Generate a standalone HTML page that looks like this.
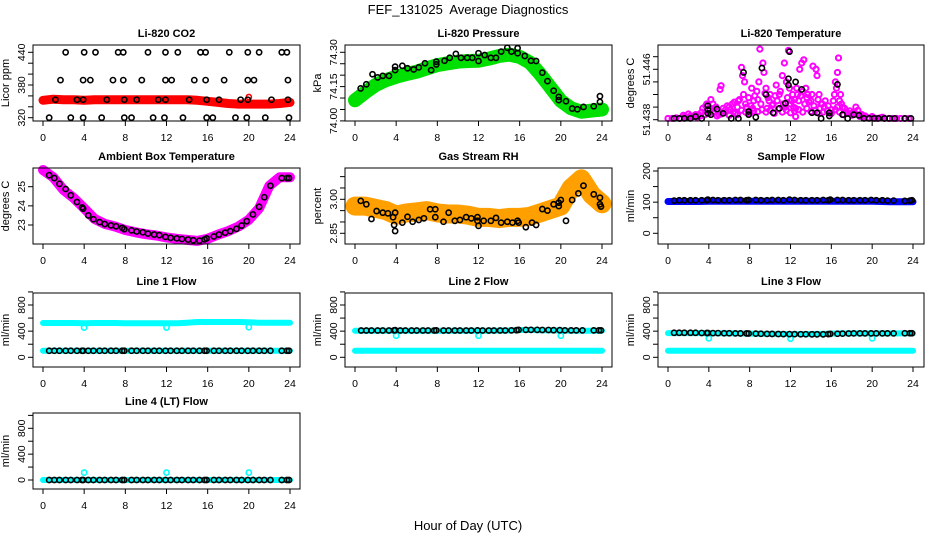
<!DOCTYPE html>
<html><head><meta charset="utf-8"><title>FEF_131025 Average Diagnostics</title>
<style>
html,body{margin:0;padding:0;background:#fff;}
svg{display:block;font-family:"Liberation Sans",Arial,sans-serif;}
</style></head>
<body>
<svg id="chart" width="936" height="540" viewBox="0 0 936 540" xmlns="http://www.w3.org/2000/svg">
<rect x="0" y="0" width="936" height="540" fill="#fff"/>
<text x="468" y="14" text-anchor="middle" font-size="13">FEF_131025&#160; Average Diagnostics</text>
<text x="468" y="530" text-anchor="middle" font-size="13">Hour of Day (UTC)</text>
</svg>
<script>
// ---------- data ----------
const bandHours = [0,1,2,3,4,5,6,7,8,9,10,11,12,13,14,15,16,17,18,19,20,21,22,23,24];
const co2Band = [352,354,353,353,352,353,353,353,353,353,353,353,353,353,353,352,350,348,346,345,345,345,345,346,348];
const co2BlackHours = [2.2,4.0,5.1,7.3,7.8,10.2,11.9,13.1,15.3,15.8,18.1,19.9,21.0,23.2,23.7,
  1.7,3.9,4.6,6.8,7.8,9.6,11.9,12.5,14.7,15.8,17.6,19.9,20.5,23.8,
  1.2,3.3,3.9,6.2,7.9,9.1,11.2,11.9,14.2,15.9,17.1,19.2,19.9,22.2,23.8,
  0.6,2.7,3.9,5.7,7.9,8.6,10.7,11.8,13.6,15.9,16.5,18.7,19.8,21.6,23.9];
const co2BlackVals = [440,440,440,440,440,440,440,440,440,440,440,440,440,440,440,
  389,389,389,389,389,389,389,389,389,389,389,389,389,389,
  353,353,353,353,353,353,353,353,353,353,353,353,353,353,353,
  320,320,320,320,320,320,320,320,320,320,320,320,320,320,320];

const presBand = [74.09,74.125,74.157,74.178,74.193,74.205,74.215,74.23,74.244,74.252,74.259,74.262,74.263,74.272,74.284,74.29,74.28,74.255,74.204,74.146,74.088,74.055,74.04,74.045,74.05];
const presBlackHours = [0.55,1.1,1.7,2.2,2.7,3.3,3.9,3.9,4.6,5.1,5.7,6.2,6.8,7.4,7.9,7.9,8.7,9.2,9.8,10.3,10.9,11.4,12.0,12.0,12.6,13.2,13.7,14.2,14.8,15.2,15.8,15.8,16.5,17.1,17.6,18.2,18.7,19.3,19.8,19.8,20.5,21.1,21.6,22.2,23.2,23.8,23.8];
const presBlackVals = [74.142,74.160,74.204,74.190,74.197,74.197,74.222,74.237,74.241,74.230,74.225,74.234,74.252,74.222,74.259,74.247,74.263,74.276,74.293,74.276,74.276,74.276,74.296,74.262,74.288,74.276,74.276,74.303,74.320,74.303,74.318,74.296,74.284,74.263,74.262,74.211,74.174,74.132,74.105,74.091,74.086,74.054,74.051,74.061,74.064,74.108,74.083];

const tempMagHours = [0,0.4,0.8,1.2,1.6,2,2.4,2.8,3.2,3.6,4,4.4,4.8,5.2,5.6,6,6.4,6.8,7.2,7.6,8,8.4,8.8,9.2,9.6,10,10.4,10.8,11.2,11.6,12,12.4,12.8,13.2,13.6,14,14.4,14.8,15.2,15.6,16,16.4,16.8,17.2,17.6,18,18.4,18.8,19.2,19.6,20,20.4,20.8,21.2,21.6,22,22.4,22.8,23.2,23.6,
  1.5,2,2.5,3,3.3,3.8,4.2,4.5,5,5.1,5.2,5.6,6,6.3,6.6,6.9,7.2,7.3,7.4,7.5,7.7,8,8.2,8.4,8.7,8.9,9.0,9.3,9.4,9.6,9.8,10,10.3,10.6,10.9,11.2,11.4,11.6,11.8,11.9,12.1,12.3,12.5,12.7,12.9,13.1,13.3,13.5,13.7,14,14.2,14.5,14.6,14.8,15,15.3,15.6,15.9,16.2,16.5,16.6,16.7,16.9,17.1,17.5,18,18.4,18.8,19.3,20,21,
  3.4,3.7,4.1,4.4,4.7,5.4,5.8,6.1,6.5,6.8,7.0,7.6,7.9,8.1,8.3,8.5,8.8,9.1,9.5,9.7,9.9,10.2,10.5,10.7,11.0,11.3,11.5,11.7,12.0,12.2,12.4,12.6,12.8,13.0,13.2,13.4,13.6,13.8,14.1,14.3,14.7,14.9,15.1,15.4,15.7,16.0,16.3,16.4,16.8,17.0,17.3,17.8,18.2,18.6,19.0,2.2,2.7,1.8,16.6,12.5];
const tempMagVals = [51.4382,51.4382,51.4383,51.4382,51.4384,51.4383,51.4385,51.4384,51.4386,51.4388,51.4390,51.4392,51.4386,51.4389,51.4391,51.4387,51.4392,51.4388,51.4395,51.4392,51.4390,51.4394,51.4393,51.4396,51.4392,51.4395,51.4390,51.4397,51.4392,51.4395,51.4391,51.4394,51.4396,51.4392,51.4398,51.4393,51.4395,51.4390,51.4392,51.4394,51.4390,51.4396,51.4392,51.4388,51.4390,51.4387,51.4389,51.4385,51.4384,51.4383,51.4383,51.4382,51.4383,51.4382,51.4382,51.4382,51.4382,51.4382,51.4382,51.4382,
  51.4387,51.4389,51.4386,51.4388,51.4392,51.4405,51.4412,51.4398,51.4388,51.4428,51.4434,51.4395,51.4400,51.4405,51.4390,51.4410,51.4463,51.4450,51.4420,51.4440,51.4400,51.4390,51.4430,51.4410,51.4425,51.4440,51.4492,51.4470,51.4455,51.4430,51.4415,51.4420,51.4405,51.4435,51.4420,51.4450,51.4470,51.4440,51.4490,51.4430,51.4410,51.4400,51.4385,51.4420,51.4460,51.4470,51.4475,51.4430,51.4420,51.4410,51.4465,51.4460,51.4450,51.4420,51.4405,51.4400,51.4395,51.4390,51.4410,51.4430,51.4455,51.4478,51.4420,51.4400,51.4392,51.4390,51.4400,51.4388,51.4386,51.4385,51.4384,
  51.4398,51.4402,51.4396,51.4405,51.4400,51.4398,51.4402,51.4396,51.4408,51.4400,51.4412,51.4405,51.4415,51.4402,51.4398,51.4418,51.4412,51.4405,51.4422,51.4398,51.4410,51.4403,51.4418,51.4410,51.4425,51.4405,51.4400,51.4415,51.4405,51.4420,51.4412,51.4430,51.4410,51.4418,51.4425,51.4405,51.4415,51.4408,51.4420,51.4402,51.4412,51.4398,51.4405,51.4410,51.4402,51.4396,51.4420,51.4440,51.4410,51.4405,51.4398,51.4394,51.4392,51.4395,51.4388,51.4386,51.4388,51.4384,51.4400,51.4398];
const tempBlackHours = [0.6,1.1,1.6,2.2,2.7,3.3,3.9,3.9,3.9,4.2,4.8,5.4,6.2,6.9,7.4,7.9,7.9,8.6,9.2,9.6,10.3,10.9,11.5,11.8,11.9,11.8,12.5,13.1,14.1,14.6,15.0,15.8,15.8,16.6,17.1,17.6,18.2,18.7,19.2,19.7,20.2,20.6,21.2,21.7,22.2,23.2,23.8];
const tempBlackVals = [51.4382,51.4382,51.4382,51.4382,51.4385,51.4382,51.4396,51.4402,51.4390,51.4388,51.4397,51.4390,51.4382,51.4382,51.4455,51.4393,51.4388,51.4384,51.4462,51.4420,51.4391,51.4398,51.4406,51.4445,51.4488,51.4435,51.4440,51.4428,51.4391,51.4391,51.4382,51.4386,51.4391,51.4436,51.4388,51.4382,51.4388,51.4387,51.4382,51.4382,51.4382,51.4382,51.4382,51.4382,51.4382,51.4382,51.4382];

const ambBand = [25.87,25.49,24.83,24.4,23.87,23.32,23.06,22.92,22.74,22.62,22.52,22.45,22.35,22.28,22.22,22.17,22.28,22.5,22.68,22.92,23.27,23.87,25.05,25.49,25.49];
const ambBlackHours = [0.6,1.1,1.6,2.2,2.7,3.3,3.8,3.9,4.4,4.9,5.5,6.0,6.6,7.1,7.7,7.9,8.6,9.1,9.7,10.2,10.8,11.3,11.9,12.4,13.0,13.5,14.1,14.6,15.2,15.7,15.9,16.6,17.1,17.7,18.2,18.8,19.3,19.8,20.4,21.0,21.5,22.1,23.2,23.7,23.9];
const ambBlackVals = [25.6,25.45,25.15,24.88,24.55,24.2,23.92,23.85,23.5,23.3,23.15,23.05,22.98,22.93,22.85,22.78,22.72,22.66,22.62,22.55,22.5,22.47,22.38,22.33,22.3,22.27,22.24,22.2,22.18,22.25,22.3,22.4,22.5,22.6,22.68,22.8,22.97,23.2,23.55,23.95,24.45,25.05,25.45,25.45,25.45];

const rhBand = [2.97,2.97,2.96,2.95,2.93,2.94,2.945,2.95,2.94,2.935,2.935,2.93,2.92,2.92,2.915,2.92,2.92,2.925,2.94,2.955,2.97,3.05,3.09,3.02,2.98];
const rhBlackHours = [0.56,1.1,1.6,2.1,2.7,3.2,3.7,3.9,3.8,3.9,4.6,5.1,5.6,6.2,6.7,7.3,7.8,7.8,8.6,9.1,9.7,10.2,10.8,11.3,11.9,11.9,12.0,12.5,13.2,13.7,14.2,14.8,15.3,15.8,15.9,16.6,17.2,17.6,18.2,18.7,19.3,19.8,19.8,20.0,20.5,21.1,21.7,22.2,23.2,23.8,23.8,23.9];
const rhBlackVals = [2.993,2.978,2.913,2.948,2.941,2.938,2.921,2.941,2.887,2.860,2.897,2.923,2.901,2.909,2.916,2.956,2.956,2.921,2.901,2.941,2.905,2.909,2.921,2.916,2.905,2.921,2.883,2.905,2.905,2.918,2.897,2.901,2.897,2.905,2.897,2.877,2.897,2.887,2.957,2.950,2.978,2.985,2.970,2.997,2.905,2.997,3.026,3.060,3.022,3.007,2.978,2.968];

const flowHours = [0.6,1.1,1.6,2.2,2.7,3.3,3.8,3.9,4.4,4.9,5.5,6.0,6.6,7.1,7.7,7.9,8.6,9.1,9.7,10.2,10.8,11.3,11.9,12.4,13.0,13.5,14.1,14.6,15.2,15.7,15.9,16.6,17.1,17.7,18.2,18.8,19.3,19.9,20.4,21.0,21.5,22.1,23.2,23.7,23.9];
const sampleBand = [102,102,102,102,103,103,103,103,103,103,103,103,103,103,103,103,103,103,103,103,103,102,101,101,101];
const sampleBlack = [105,106,106,106,106,106,106,108,107,106,106,106,107,107,106,107,107,106,106,107,107,106,108,107,106,106,106,106,107,106,108,107,107,106,106,106,106,107,106,106,105,105,104,105,106];

const cyanDipHours = [4,12,20];
const line1High = [525,525,525,525,522,525,525,525,522,522,522,522,522,522,530,540,540,540,540,540,535,530,530,530,530];
const line1Low = [100,100,100,100,100,100,100,100,100,100,100,100,100,100,100,100,100,100,100,100,100,100,100,100,100];
const line1Dips = [455,455,460];
const line1Black = [100,100,100,100,100,100,100,100,100,100,100,100,100,100,100,100,100,100,100,100,100,100,100,100,100,100,100,100,100,100,100,100,100,100,100,100,100,100,100,100,100,100,100,100,100];

const line2High = [405,405,405,405,405,405,405,405,405,405,405,405,405,405,408,410,418,418,415,412,410,405,405,405,405];
const line2Low = [100,100,100,100,100,100,100,100,100,100,100,100,100,100,100,100,100,100,100,100,100,100,100,100,100];
const line2Dips = [330,330,330];
const line2Black = [410,410,410,410,410,410,412,415,410,410,410,410,410,410,410,412,410,410,410,410,410,410,412,410,410,410,410,410,412,415,420,420,420,420,418,418,415,415,412,412,412,412,412,412,412];

const line3High = [370,370,370,370,368,368,366,365,362,360,358,356,355,355,356,358,362,365,366,366,366,366,366,366,366];
const line3Low = [100,100,100,100,100,100,100,100,100,100,100,100,100,100,100,100,100,100,100,100,100,100,100,100,100];
const line3Dips = [290,285,290];
const line3Black = [375,375,375,375,375,372,372,372,370,370,368,368,366,365,365,364,362,360,358,357,356,355,355,354,353,353,352,352,352,354,358,360,362,364,366,366,366,366,366,366,366,366,368,368,368];

const line4Cyan = [0,0,0,0,0,0,0,0,0,0,0,0,0,0,0,0,0,0,0,0,0,0,0,0,0];
const line4Dips = [115,115,115];
const line4Black = [0,0,0,0,0,0,0,0,0,0,0,0,0,0,0,0,0,0,0,0,0,0,0,0,0,0,0,0,0,0,0,0,0,0,0,0,0,0,0,0,0,0,0,0,0];

const xTicks = [0,4,8,12,16,20,24];

// ---------- helpers ----------
const NS = 'http://www.w3.org/2000/svg';
const svg = document.getElementById('chart');
function el(tag, attrs, parent) {
  const e = document.createElementNS(NS, tag);
  for (const k in attrs) e.setAttribute(k, attrs[k]);
  (parent || svg).appendChild(e);
  return e;
}

function makePanel(cfg) {
  const g = el('g', {});
  
  
  const [l, t, r, b] = cfg.box;
  const sx = h => cfg.x0 + (cfg.x24 - cfg.x0) * h / 24;
  const sy = v => cfg.ya[1] + (v - cfg.ya[0]) * (cfg.yb[1] - cfg.ya[1]) / (cfg.yb[0] - cfg.ya[0]);
  const marks = el('g', {}, g);
  
  
  const title = el('text', {x: (l + r) / 2, y: t - 8, 'text-anchor': 'middle', 'font-size': 11, 'font-weight': 'bold'}, g);
  
  
  title.textContent = cfg.title;
  const ylab = el('text', {x: 0, y: 0, 'text-anchor': 'middle', 'font-size': 11, transform: 'translate(' + (l - 24) + ',' + ((t + b) / 2) + ') rotate(-90)'}, g);
  
  
  ylab.textContent = cfg.ylab;
  xTicks.forEach(h => {
    const tk = el('line', {x1: sx(h), x2: sx(h), y1: b, y2: b + 5, stroke: '#000', 'stroke-width': 1}, g);
    
    
    const tl = el('text', {x: sx(h), y: b + 20, 'text-anchor': 'middle', 'font-size': 10.5}, g);
    
    
    tl.textContent = String(h);
  });
  cfg.yticks.forEach(v => {
    const tk = el('line', {x1: l - 5, x2: l, y1: sy(v), y2: sy(v), stroke: '#000', 'stroke-width': 1}, g);
    
    
  });
  cfg.ylabels.forEach(s => {
    const tl = el('text', {x: 0, y: 0, 'text-anchor': 'middle', 'font-size': 10.5, transform: 'translate(' + (l - 8) + ',' + sy(parseFloat(s)) + ') rotate(-90)'}, g);
    
    
    tl.textContent = s;
  });
  const box = el('rect', {x: l, y: t, width: r - l, height: b - t, fill: 'none', stroke: '#000', 'stroke-width': 1}, g);
  
  
  return {g: marks, sx, sy};
}

function band(p, hours, vals, color, width, name) {
  const pts = hours.map((h, i) => p.sx(h).toFixed(1) + ',' + p.sy(vals[i]).toFixed(1)).join(' ');
  const pl = el('polyline', {points: pts, fill: 'none', stroke: color, 'stroke-width': width, 'stroke-linejoin': 'round', 'stroke-linecap': 'round'}, p.g);
  
  
}
function circles(p, hours, vals, color, name, sw) {
  hours.forEach((h, i) => {
    const c = el('circle', {cx: p.sx(h), cy: p.sy(vals[i]), r: 2.6, fill: 'none', stroke: color, 'stroke-width': sw || 1.6}, p.g);
    
    
  });
}

// ---------- panels ----------
const C1 = [33, 300], C2 = [345, 612], C3 = [658, 924];
const R1 = [45, 121], R2 = [168, 244], R3 = [293, 367], R4 = [413, 489];

let p = makePanel({name: 'co2', title: 'Li-820 CO2', ylab: 'Licor ppm', box: [C1[0], R1[0], C1[1], R1[1]], x0: 43, x24: 290,
  ya: [320, 117.7], yb: [440, 52.3], yticks: [320, 340, 360, 380, 400, 420, 440], ylabels: ['320', '380', '440']});
band(p, bandHours, co2Band, '#ff0000', 9, 'co2-red-band');
circles(p, [20], [358], '#ff0000', 'co2-red-point');
circles(p, co2BlackHours, co2BlackVals, '#000', 'co2-black-point');

p = makePanel({name: 'pressure', title: 'Li-820 Pressure', ylab: 'kPa', box: [C2[0], R1[0], C2[1], R1[1]], x0: 355, x24: 602,
  ya: [74.00, 120.9], yb: [74.30, 52.3], yticks: [74.00, 74.05, 74.10, 74.15, 74.20, 74.25, 74.30], ylabels: ['74.00', '74.15', '74.30']});
band(p, bandHours, presBand, '#00e000', 14, 'pressure-green-band');
circles(p, presBlackHours, presBlackVals, '#000', 'pressure-black-point');

p = makePanel({name: 'licor-temp', title: 'Li-820 Temperature', ylab: 'degrees C', box: [C3[0], R1[0], C3[1], R1[1]], x0: 668, x24: 913,
  ya: [51.438, 119.7], yb: [51.446, 69.3], yticks: [51.438, 51.440, 51.442, 51.444, 51.446, 51.448], ylabels: ['51.438', '51.446']});
circles(p, tempMagHours, tempMagVals, '#ff00ff', 'licor-temp-magenta-point', 2);
circles(p, tempBlackHours, tempBlackVals, '#000', 'licor-temp-black-point');

p = makePanel({name: 'ambient-temp', title: 'Ambient Box Temperature', ylab: 'degrees C', box: [C1[0], R2[0], C1[1], R2[1]], x0: 43, x24: 290,
  ya: [23, 225], yb: [25, 186.7], yticks: [23, 24, 25], ylabels: ['23', '24', '25']});
band(p, bandHours, ambBand, '#ff00ff', 10, 'ambient-magenta-band');
circles(p, ambBlackHours, ambBlackVals, '#000', 'ambient-black-point');

p = makePanel({name: 'rh', title: 'Gas Stream RH', ylab: 'percent', box: [C2[0], R2[0], C2[1], R2[1]], x0: 355, x24: 602,
  ya: [2.85, 233.3], yb: [3.00, 199.3], yticks: [2.85, 2.90, 2.95, 3.00, 3.05, 3.10], ylabels: ['2.85', '3.00']});
band(p, bandHours, rhBand, '#ffa000', 19, 'rh-orange-band');
circles(p, rhBlackHours, rhBlackVals, '#000', 'rh-black-point');

p = makePanel({name: 'sample-flow', title: 'Sample Flow', ylab: 'ml/min', box: [C3[0], R2[0], C3[1], R2[1]], x0: 668, x24: 913,
  ya: [0, 233.3], yb: [200, 171], yticks: [0, 50, 100, 150, 200], ylabels: ['0', '100', '200']});
band(p, bandHours, sampleBand, '#0000ff', 7, 'sample-flow-blue-band');
circles(p, flowHours, sampleBlack, '#000', 'sample-flow-black-point');

const flowTicks = [0, 200, 400, 600, 800, 1000];
const flowLabels = ['0', '400', '800'];

p = makePanel({name: 'line1-flow', title: 'Line 1 Flow', ylab: 'ml/min', box: [C1[0], R3[0], C1[1], R3[1]], x0: 43, x24: 290,
  ya: [0, 357.3], yb: [800, 305], yticks: flowTicks, ylabels: flowLabels});
band(p, bandHours, line1High, '#00ffff', 6, 'line1-cyan-high');
band(p, bandHours, line1Low, '#00ffff', 6, 'line1-cyan-low');
circles(p, cyanDipHours, line1Dips, '#00ffff', 'line1-cyan-dip');
circles(p, flowHours, line1Black, '#000', 'line1-black-point');

p = makePanel({name: 'line2-flow', title: 'Line 2 Flow', ylab: 'ml/min', box: [C2[0], R3[0], C2[1], R3[1]], x0: 355, x24: 602,
  ya: [0, 357.3], yb: [800, 305], yticks: flowTicks, ylabels: flowLabels});
band(p, bandHours, line2High, '#00ffff', 6, 'line2-cyan-high');
band(p, bandHours, line2Low, '#00ffff', 6, 'line2-cyan-low');
circles(p, cyanDipHours, line2Dips, '#00ffff', 'line2-cyan-dip');
circles(p, flowHours, line2Black, '#000', 'line2-black-point');

p = makePanel({name: 'line3-flow', title: 'Line 3 Flow', ylab: 'ml/min', box: [C3[0], R3[0], C3[1], R3[1]], x0: 668, x24: 913,
  ya: [0, 357.3], yb: [800, 305], yticks: flowTicks, ylabels: flowLabels});
band(p, bandHours, line3High, '#00ffff', 6, 'line3-cyan-high');
band(p, bandHours, line3Low, '#00ffff', 6, 'line3-cyan-low');
circles(p, cyanDipHours, line3Dips, '#00ffff', 'line3-cyan-dip');
circles(p, flowHours, line3Black, '#000', 'line3-black-point');

p = makePanel({name: 'line4-flow', title: 'Line 4 (LT) Flow', ylab: 'ml/min', box: [C1[0], R4[0], C1[1], R4[1]], x0: 43, x24: 290,
  ya: [0, 480], yb: [800, 428.3], yticks: flowTicks, ylabels: flowLabels});
band(p, bandHours, line4Cyan, '#00ffff', 6, 'line4-cyan-band');
circles(p, cyanDipHours, line4Dips, '#00ffff', 'line4-cyan-spike');
circles(p, flowHours, line4Black, '#000', 'line4-black-point');
</script>
</body></html>
